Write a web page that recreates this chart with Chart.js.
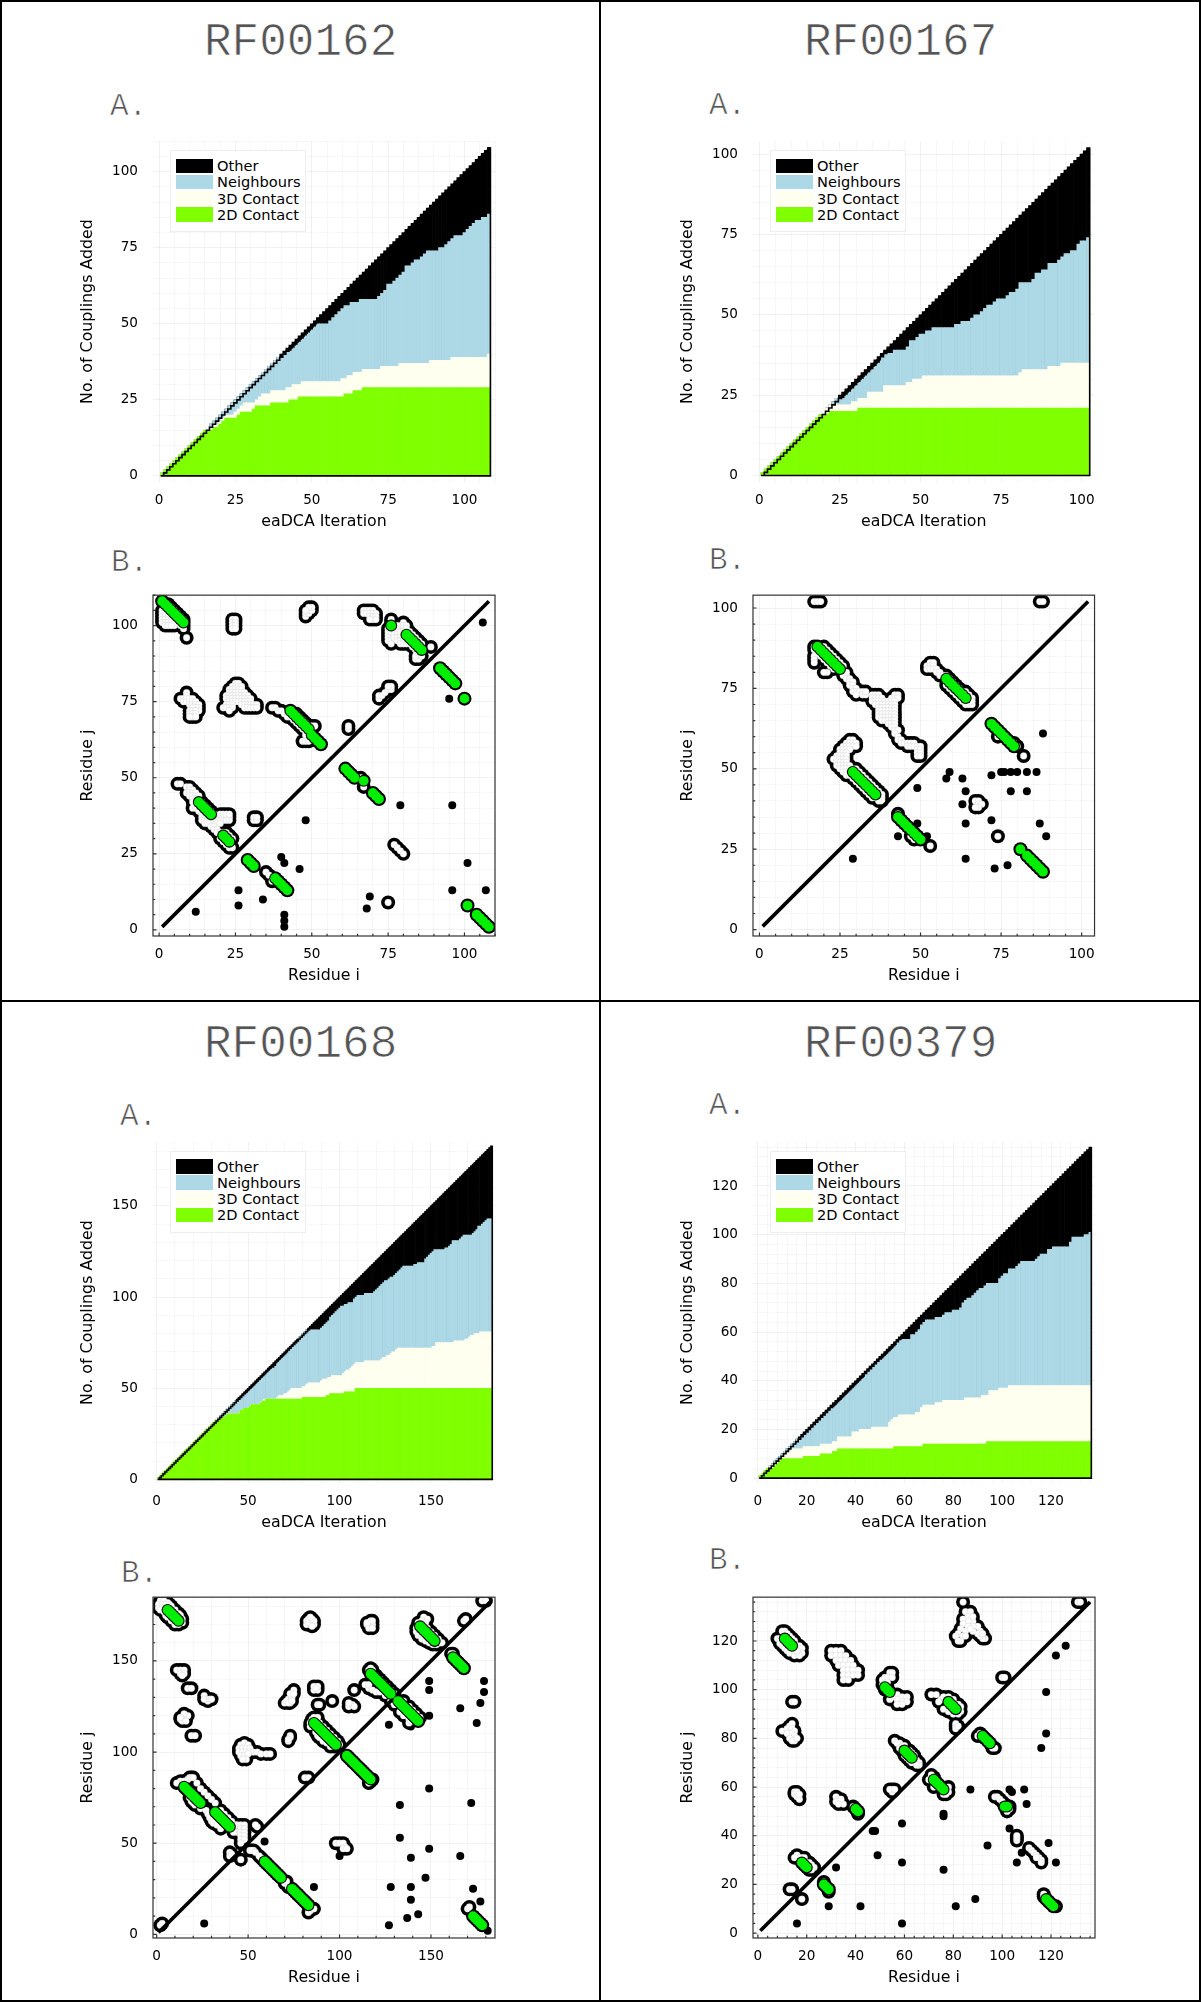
<!DOCTYPE html>
<html>
<head>
<meta charset="utf-8">
<title>eaDCA couplings</title>
<script src="https://cdn.jsdelivr.net/npm/chart.js@4"></script>
<style>
  html, body { margin: 0; padding: 0; background: #fff; }
  #page { position: relative; width: 1201px; height: 2002px; overflow: hidden; background: #fff; }
  #page canvas { position: absolute; }
  .rule { position: absolute; background: #000; }
  .head { position: absolute; font-family: "Liberation Mono", monospace; color: #555; white-space: pre; line-height: 1; -webkit-text-stroke: 0.7px #fff; }
  .legend { position: absolute; box-sizing: border-box; width: 136px; height: 82px; background: #fff; border: 1px solid #eee;
            font: 14.6px "DejaVu Sans", sans-serif; color: #000; padding: 7px 0 0 5px; }
  .legend div { height: 16.3px; line-height: 16.3px; white-space: nowrap; }
  .legend span { display: inline-block; width: 37px; height: 14.5px; margin-right: 4px; vertical-align: -2px; }
</style>
</head>
<body>
<div id="page"></div>
<script>
// Panel A: iterations and the running top of each layer

var iter162 = [1,2,3,4,5,6,7,8,9,10,11,12,13,14,15,16,17,18,19,20,21,22,23,24,25,26,27,28,29,30,31,32,33,34,35,36,37,38,39,40,41,42,43,44,45,46,47,48,49,50,51,52,53,54,55,56,57,58,59,60,61,62,63,64,65,66,67,68,69,70,71,72,73,74,75,76,77,78,79,80,81,82,83,84,85,86,87,88,89,90,91,92,93,94,95,96,97,98,99,100,101,102,103,104,105,106,107,108];
var d2Top162 = [1,2,3,4,5,6,7,8,9,10,11,12,13,14,15,
  15,15,16,16,17,18,19,19,19,19,20,21,21,21,21,22,23,23,23,23,23,
  24,24,24,24,24,24,25,25,25,26,26,26,26,26,26,26,26,26,26,26,26,26,26,26,
  27,27,27,28,28,28,
  29,29,29,29,29,29,29,29,29,29,29,29,29,29,29,29,29,29,29,29,29,29,29,29,29,29,29,29,29,29,29,29,29,29,29,29,29,29,29,29,29,29];
var d3Top162 = [1,2,3,4,5,6,7,8,9,10,11,12,13,14,15,
  16,16,17,17,18,19,20,20,20,21,22,23,24,24,24,24,25,26,27,27,27,
  28,28,28,28,28,29,29,30,30,30,31,31,31,31,31,31,31,31,31,31,31,31,31,32,32,33,33,34,34,34,
  35,35,35,35,35,35,36,36,36,36,36,36,37,37,37,37,37,37,37,37,37,37,38,38,38,38,38,38,38,
  39,39,39,39,39,39,39,39,39,39,39,39,40];
var nbTop162 = [1,2,3,4,5,6,7,8,9,10,11,12,13,14,15,16,17,18,19,20,21,22,23,24,25,26,27,28,29,30,31,32,33,34,35,36,37,38,
  39,39,40,41,41,42,43,44,45,46,47,48,49,50,50,50,50,51,52,53,54,55,56,56,57,57,57,58,58,58,58,58,58,
  59,60,61,63,63,64,65,66,67,69,69,70,71,71,72,73,74,74,74,74,75,75,76,77,78,79,79,79,80,81,82,83,84,84,85,85,86];

var iter167 = [1,2,3,4,5,6,7,8,9,10,11,12,13,14,15,16,17,18,19,20,21,22,23,24,25,26,27,28,29,30,31,32,33,34,35,36,37,38,39,40,41,42,43,44,45,46,47,48,49,50,51,52,53,54,55,56,57,58,59,60,61,62,63,64,65,66,67,68,69,70,71,72,73,74,75,76,77,78,79,80,81,82,83,84,85,86,87,88,89,90,91,92,93,94,95,96,97,98,99,100,101,102];
var d2Top167 = [1,2,3,4,5,6,7,8,9,10,11,12,13,14,15,16,17,18,19,19,19,
  20,20,20,20,20,20,20,20,20,
  21,21,21,21,21,21,21,21,21,21,21,21,21,21,21,21,21,21,21,21,21,21,21,21,21,21,21,21,21,21,21,21,21,21,21,21,21,21,21,21,21,21,21,21,21,21,21,21,21,21,21,21,21,21,21,21,21,21,21,21,21,21,21,21,21,21,21,21,21,21,21,21];
var d3Top167 = [1,2,3,4,5,6,7,8,9,10,11,12,13,14,15,16,17,18,19,20,21,22,22,22,22,22,22,22,23,23,24,24,24,
  26,26,26,26,26,28,28,28,28,28,28,28,29,29,30,30,30,
  31,31,31,31,31,31,31,31,31,31,31,31,31,31,31,31,31,31,31,31,31,31,31,31,31,31,31,31,31,31,
  32,33,33,33,33,33,33,33,33,34,34,34,34,35,35,35,35,35,35,35,35,35];
var nbTop167 = [1,2,3,4,5,6,7,8,9,10,11,12,13,14,15,16,17,18,19,20,21,22,23,24,
  24,24,25,26,27,28,29,30,31,32,33,34,35,37,38,38,38,39,39,39,39,40,42,42,43,44,44,45,45,
  46,46,46,46,46,46,46,47,47,48,48,48,49,50,50,51,52,53,53,54,55,55,55,56,57,57,58,60,60,60,60,61,63,63,64,64,66,66,66,67,68,69,69,70,70,72,73,73,74];

var iter168 = [1,2,3,4,5,6,7,8,9,10,11,12,13,14,15,16,17,18,19,20,21,22,23,24,25,26,27,28,29,30,31,32,33,34,35,36,37,38,39,40,41,42,43,44,45,46,47,48,49,50,51,52,53,54,55,56,57,58,59,60,61,62,63,64,65,66,67,68,69,70,71,72,73,74,75,76,77,78,79,80,81,82,83,84,85,86,87,88,89,90,91,92,93,94,95,96,97,98,99,100,101,102,103,104,105,106,107,108,109,110,111,112,113,114,115,116,117,118,119,120,121,122,123,124,125,126,127,128,129,130,131,132,133,134,135,136,137,138,139,140,141,142,143,144,145,146,147,148,149,150,151,152,153,154,155,156,157,158,159,160,161,162,163,164,165,166,167,168,169,170,171,172,173,174,175,176,177,178,179,180,181,182,183];
var d2Top168 = [1,2,3,4,5,6,7,8,9,10,11,12,13,14,15,16,17,18,19,20,21,22,23,24,25,26,27,28,29,30,31,
  32,32,33,33,34,34,35,36,36,36,36,36,36,36,38,38,39,39,39,40,41,41,41,41,41,42,43,43,
  44,44,44,44,44,44,44,44,44,44,44,44,44,44,44,44,44,44,44,44,
  45,45,45,45,45,45,45,45,45,45,45,45,45,46,46,47,47,47,47,47,47,47,47,48,48,48,48,48,48,
  50,50,50,50,50,50,50,50,50,50,50,50,50,50,50,50,50,50,50,50,50,50,50,50,50,50,50,50,50,50,50,50,50,50,50,50,50,50,50,50,50,50,50,50,50,50,50,50,50,50,50,50,50,50,50,50,50,50,50,50,50,50,50,50,50,50,50,50,50,50,50,50,50,50,50];
var d3Top168 = [1,2,3,4,5,6,7,8,9,10,11,12,13,14,15,16,17,18,19,20,21,22,23,24,25,26,27,28,29,30,31,
  32,32,33,33,34,34,35,36,36,36,36,36,36,36,38,38,39,39,39,40,41,41,41,41,41,42,43,
  44,44,44,44,44,44,44,45,46,46,46,47,47,48,49,50,50,50,50,50,50,51,51,52,53,53,53,53,53,53,53,54,55,55,55,56,56,
  57,57,57,57,57,57,58,59,60,60,61,62,63,64,64,64,64,64,65,65,65,65,65,65,65,65,65,66,67,67,68,68,69,70,70,71,
  72,72,72,72,72,72,72,72,72,72,72,72,72,72,72,72,72,72,72,73,73,75,75,75,75,75,75,75,75,75,75,76,76,76,76,76,76,77,77,78,79,79,80,80,80,81,81,81,81,81,81,81];
var nbTop168 = [1,2,3,4,5,6,7,8,9,10,11,12,13,14,15,16,17,18,19,20,21,22,23,24,25,26,27,28,29,30,31,32,33,34,35,36,37,38,39,40,
  41,42,43,43,44,45,46,47,47,48,49,50,51,52,53,54,55,56,57,58,59,60,61,61,62,64,65,66,67,68,69,71,72,73,74,75,76,78,79,80,81,
  82,82,82,82,82,82,82,82,83,84,85,86,87,89,90,91,92,93,94,95,95,96,96,97,97,97,99,100,101,101,101,101,102,102,102,102,102,103,
  104,105,106,107,108,109,109,110,111,111,112,113,114,115,116,117,117,117,117,117,117,118,118,119,119,119,119,121,122,123,124,125,
  126,126,126,126,126,126,127,127,128,129,131,131,131,131,132,133,134,134,134,134,134,135,136,137,139,139,140,141,142,143,143,143];

var iter379 = [1,2,3,4,5,6,7,8,9,10,11,12,13,14,15,16,17,18,19,20,21,22,23,24,25,26,27,28,29,30,31,32,33,34,35,36,37,38,39,40,41,42,43,44,45,46,47,48,49,50,51,52,53,54,55,56,57,58,59,60,61,62,63,64,65,66,67,68,69,70,71,72,73,74,75,76,77,78,79,80,81,82,83,84,85,86,87,88,89,90,91,92,93,94,95,96,97,98,99,100,101,102,103,104,105,106,107,108,109,110,111,112,113,114,115,116,117,118,119,120,121,122,123,124,125,126,127,128,129,130,131,132,133,134,135,136];
var d2Top379 = [1,2,3,4,4,4,5,6,7,8,8,8,8,8,8,8,8,8,9,9,9,9,9,9,9,10,10,10,10,10,11,11,
  12,12,12,12,12,12,12,12,12,12,12,12,12,12,12,12,12,12,12,12,12,12,12,
  13,13,13,13,13,13,13,13,13,13,13,13,
  14,14,14,14,14,14,14,14,14,14,14,14,14,14,14,14,14,14,14,14,14,14,14,14,14,14,
  15,15,15,15,15,15,15,15,15,15,15,15,15,15,15,15,15,15,15,15,15,15,15,15,15,15,15,15,15,15,15,15,15,15,15,15,15,15,15,15,15,15,15];
var d3Top379 = [1,2,3,4,5,5,6,7,8,9,10,11,11,12,12,12,12,12,13,13,13,13,13,13,13,14,14,14,14,14,15,15,
  17,17,17,17,17,17,19,19,19,20,20,20,20,20,21,21,21,21,21,21,21,23,24,25,25,26,26,26,26,26,26,26,27,27,29,
  30,30,30,30,30,31,31,31,32,32,32,32,32,32,32,32,32,33,33,33,33,33,33,33,34,34,34,36,36,36,36,37,37,37,37,
  38,38,38,38,38,38,38,38,38,38,38,38,38,38,38,38,38,38,38,38,38,38,38,38,38,38,38,38,38,38,38,38,38,38];
var nbTop379 = [1,2,3,4,5,6,7,8,9,10,11,12,13,14,15,16,16,17,18,19,20,21,22,23,24,25,26,27,28,29,29,30,31,32,33,34,35,36,37,38,39,40,41,43,44,45,46,47,48,49,49,50,51,52,53,54,56,57,
  57,57,57,57,59,59,60,61,63,64,65,65,65,65,66,66,66,67,68,68,68,69,69,69,70,72,73,74,74,75,76,77,78,78,79,80,80,80,80,80,82,83,84,84,86,86,86,87,88,
  89,89,89,89,89,89,90,91,92,92,92,94,94,95,95,95,95,95,95,95,97,99,99,99,99,99,100,100,101];

// Axis ticks: every entry gets a grid line, the label lists get text

var ticks162 = [0,5,10,15,20,25,30,35,40,45,50,55,60,65,70,75,80,85,90,95,100,105,110];
var labels162 = [0,25,50,75,100];
var ticks167 = [0,5,10,15,20,25,30,35,40,45,50,55,60,65,70,75,80,85,90,95,100];
var labels167 = [0,25,50,75,100];
var ticks168 = [0,10,20,30,40,50,60,70,80,90,100,110,120,130,140,150,160,170,180];
var labels168 = [0,50,100,150];
var ticks379 = [0,4,8,12,16,20,24,28,32,36,40,44,48,52,56,60,64,68,72,76,80,84,88,92,96,100,104,108,112,116,120,124,128,132,136];
var labels379 = [0,20,40,60,80,100,120];

// Panel B: residue pairs [i, j]

var green162 = [[1,108],[2,107],[3,106],[4,105],[5,104],[6,103],[7,102],[8,101],[76,100],[81,97],[82,96],[83,95],[84,94],[85,93],[86,92],
  [92,86],[93,85],[94,84],[95,83],[96,82],[97,81],[100,76],[43,72],[44,71],[45,70],[46,69],[47,68],[48,67],[49,66],[50,64],[51,63],[52,62],[53,61],
  [61,53],[62,52],[63,51],[64,50],[67,49],[70,45],[71,44],[72,43],[13,42],[14,41],[15,40],[16,39],[17,38],[21,31],[22,30],[23,29],
  [29,23],[30,22],[31,21],[38,17],[39,16],[40,15],[41,14],[42,13],[101,8],[104,5],[105,4],[106,3],[107,2],[108,1]];
var white162 = [[3,107],[4,106],[5,105],[6,104],[7,103],[8,102],[8,100],[8,99],[7,100],[6,101],[5,100],
  [1,105],[1,104],[2,104],[1,103],[2,103],[3,103],[1,102],[2,102],[3,102],[4,102],[1,101],[2,101],[3,101],[4,101],[5,101],[2,100],[3,100],[4,100],[9,96],
  [24,102],[25,102],[24,101],[25,101],[24,100],[25,100],[24,99],[25,99],
  [48,103],[48,104],[49,104],[49,105],[50,105],[50,106],[49,106],[48,105],
  [67,105],[68,105],[69,105],[70,105],[67,104],[68,104],[69,104],[70,104],[71,104],[69,103],[70,103],[71,103],[70,102],[71,102],[69,102],
  [76,102],[76,101],[80,101],[79,100],[80,100],[81,100],[81,99],[82,98],[83,97],[84,96],[85,95],[86,94],[89,93],[84,89],[85,89],[84,90],[85,91],[86,90],
  [75,99],[75,98],[75,97],[75,96],[75,95],[76,95],[76,94],[76,98],[76,99],[77,97],[77,96],[78,96],[78,95],[79,95],[79,94],[80,94],[81,94],[80,96],[79,97],[78,98],[77,99],[78,99],[79,98],[80,98],[81,95],[82,94],[83,93],[84,92],[77,100],[78,100],
  [72,76],[72,77],[73,77],[74,78],[75,79],[76,79],[76,80],[75,80],[62,66],[62,67],
  [7,76],[8,76],[8,75],[9,78],[9,77],[9,76],[9,75],[10,74],[10,75],[10,76],[11,76],[11,75],[11,74],[12,75],[12,74],[13,74],[13,73],[13,72],[12,73],[11,73],[10,72],[11,72],[12,72],[10,71],[11,71],[12,71],[11,70],[12,70],[10,70],
  [25,81],[26,81],[24,80],[25,80],[26,80],[27,80],[23,79],[24,79],[25,79],[26,79],[27,79],[23,78],[24,78],[25,78],[26,78],[27,78],[28,78],
  [22,77],[23,77],[24,77],[25,77],[26,77],[27,77],[28,77],[29,77],[22,76],[23,76],[24,76],[25,76],[26,76],[27,76],[28,76],[29,76],[30,76],
  [23,75],[24,75],[25,75],[26,75],[27,75],[28,75],[29,75],[30,75],[22,74],[23,74],[24,74],[27,74],[28,74],[29,74],[30,74],[31,74],[32,74],
  [21,73],[22,73],[23,73],[24,73],[28,73],[29,73],[30,73],[31,73],[32,73],[23,72],
  [37,73],[38,73],[39,72],[40,72],[41,71],[42,71],[42,70],[43,70],[45,71],[46,70],[47,69],[48,68],[49,67],[50,67],[50,66],[51,67],
  [44,69],[45,68],[46,67],[47,66],[48,65],[48,64],[47,62],[48,62],[49,62],[50,63],
  [6,48],[7,48],[9,47],[10,47],[10,46],[11,46],[9,45],[10,45],[11,45],[12,45],[10,44],[11,44],[12,44],[13,44],[11,43],[12,43],[13,43],[11,42],[12,41],[11,40],[12,40],[13,39],[14,38],[14,37],[15,37],[14,36],[15,36],[16,37],[15,35],
  [14,42],[15,41],[16,40],[17,39],[18,38],[18,37],[19,37],[20,37],[21,37],[22,37],[23,37],[23,36],[22,36],[21,36],[20,36],[19,36],[18,36],[17,36],[16,36],[18,35],[17,35],[19,35],[20,35],[16,35],[17,34],[18,34],[18,33],[19,33],[19,32],[20,32],[21,32],[20,38],[21,38],[22,38],[23,38],
  [22,32],[23,31],[24,30],[20,30],[21,29],[22,28],[23,27],[24,27],[31,36],[31,37],[32,36],[32,37],
  [35,19],[36,18],[37,16],[67,47],[66,50],[75,9],[77,28],[78,27],[79,26],[80,25]];
var dots162 = [[12,6],[26,13],[26,8],[34,10],[40,24],[41,22],[46,20],[48,36],[41,5],[41,3],[41,1],[79,41],[96,41],[95,76],[106,101],[101,22],[96,13],[107,13],[69,11],[68,7]];

var green167 = [[18,88],[19,87],[20,86],[21,85],[22,84],[23,83],[24,82],[25,81],[58,78],[59,77],[60,76],[61,75],[62,74],[63,73],[64,72],
  [72,64],[73,63],[74,62],[75,61],[76,60],[77,59],[78,58],[79,57],[29,49],[30,48],[31,47],[32,46],[33,45],[34,44],[35,43],[36,42],
  [43,35],[44,34],[45,33],[46,32],[47,31],[48,30],[49,29],[50,28],[81,25],[83,23],[84,22],[85,21],[86,20],[87,19],[88,18]];
var white167 = [[17,102],[18,102],[19,102],[87,102],[88,102],
  [20,88],[21,87],[22,86],[23,85],[24,84],[25,83],[26,82],[17,88],[17,87],[18,86],[17,85],[17,84],[17,83],[21,80],[20,80],[19,85],[20,84],[21,83],[22,82],[23,81],
  [26,80],[27,79],[27,80],[26,79],[27,78],[28,78],[28,77],[29,77],[28,76],[29,76],[29,75],[30,75],[29,74],[30,74],[31,74],[32,74],[30,73],[32,73],[33,73],[33,74],
  [35,73],[36,73],[37,73],[42,73],[43,73],[35,72],[36,72],[37,72],[38,72],[41,72],[42,72],[43,72],
  [35,71],[36,71],[37,71],[38,71],[39,71],[40,71],[41,71],[42,71],[36,70],[37,70],[38,70],[39,70],[40,70],[41,70],[42,70],
  [37,69],[38,69],[39,69],[40,69],[41,69],[42,69],[37,68],[38,68],[39,68],[40,68],[41,68],[42,68],[37,67],[38,67],[39,67],[40,67],[41,67],[42,67],
  [37,66],[38,66],[39,66],[40,66],[41,66],[42,66],[38,65],[39,65],[40,65],[41,65],[42,65],[40,64],[41,64],[42,64],[41,63],[42,63],[42,62],[43,62],[42,61],[43,60],
  [43,59],[44,59],[44,58],[45,58],[46,58],[47,58],[48,58],[46,57],[47,57],[48,57],[49,57],[50,57],[49,56],[50,56],[49,55],[50,55],[49,54],[50,54],
  [28,59],[29,59],[27,58],[28,58],[29,58],[30,58],[26,57],[27,57],[28,57],[29,57],[30,57],[25,56],[26,56],[27,56],[28,56],[25,55],[26,55],[27,55],
  [24,54],[25,54],[26,54],[27,54],[23,53],[24,53],[25,53],[26,53],[27,53],[24,52],[25,52],[26,52],[27,52],[24,51],[25,51],[26,51],[27,51],[28,51],
  [25,50],[26,50],[27,50],[28,50],[29,50],[26,49],[27,49],[28,49],[27,48],[28,48],
  [30,50],[31,49],[32,48],[33,47],[34,46],[35,45],[36,44],[37,43],[38,42],[38,41],[37,41],[38,40],[29,47],[30,46],[31,45],[32,44],[33,43],[34,42],[35,41],[36,41],[37,40],
  [52,82],[53,83],[54,83],[53,82],[54,82],[52,81],[53,81],[54,81],[55,81],[55,80],[56,80],[56,79],[57,79],[58,79],[59,78],[60,77],[61,76],[62,75],[63,74],[64,74],[65,73],[66,72],
  [58,76],[59,75],[60,74],[61,73],[62,72],[63,71],[64,70],[65,70],[66,70],[66,71],
  [74,60],[80,57],[79,58],[82,54],[67,40],[68,40],[68,39],[69,39],[68,38],[67,38],[74,29],[53,26],[47,29],[48,28],[43,36]];
var dots167 = [[29,22],[43,29],[49,44],[49,33],[52,29],[58,47],[59,49],[63,47],[64,43],[63,39],[64,33],[64,22],[72,48],[75,49],[76,49],[78,49],[80,49],[83,49],[86,49],[78,43],[83,43],[72,34],[87,33],[89,29],[73,19],[77,20],[88,61]];

var green168 = [[6,178],[7,177],[8,176],[9,175],[10,174],[11,173],[12,172],
  [15,81],[16,80],[17,79],[18,78],[19,77],[20,76],[21,75],[22,74],[23,73],[24,72],
  [32,67],[33,66],[34,65],[35,64],[36,63],[37,62],[38,61],[39,60],[40,59],
  [59,40],[60,39],[61,38],[62,37],[63,36],[64,35],[65,34],[66,33],[67,32],[68,31],
  [74,25],[75,24],[76,23],[77,22],[78,21],[79,20],[80,19],[81,18],[82,17],[83,16],
  [86,116],[87,115],[88,114],[89,113],[90,112],[91,111],[92,110],[93,109],[94,108],[95,107],[96,106],[97,105],[98,104],
  [104,98],[105,97],[106,96],[107,95],[108,94],[109,93],[110,92],[111,91],[112,90],[113,89],[114,88],[115,87],[116,86],[117,85],
  [117,143],[118,142],[119,141],[120,140],[121,139],[122,138],[123,137],[124,136],[125,135],[126,134],[127,133],[128,132],
  [132,128],[133,127],[134,126],[135,125],[136,124],[137,123],[138,122],[139,121],[140,120],[141,119],[142,118],[143,117],
  [144,169],[145,168],[146,167],[147,166],[148,165],[149,164],[150,163],[151,162],[152,161],
  [162,152],[163,151],[164,150],[165,149],[166,148],[167,147],[168,146],[173,10],[174,9],[175,8],[176,7],[177,6],[178,5]];
var white168 = [[2,183],[4,183],[6,182],[1,181],[3,181],[5,181],[7,181],[1,179],[3,179],[2,178],[5,179],[4,177],[5,175],[6,174],[8,172],[10,170],[12,170],[14,171],[14,173],[13,175],[12,176],[10,178],[8,180],[9,176],
  [82,170],[84,170],[86,170],[82,172],[84,172],[86,172],[83,171],[83,173],[85,173],[85,169],[84,174],
  [115,170],[117,170],[116,171],[118,170],[116,168],[118,168],[117,172],[118,172],[115,171],
  [146,174],[148,173],[145,172],[147,171],[143,171],[144,170],[142,168],[142,166],[143,164],[145,162],[147,161],[149,160],[151,159],[153,159],[155,160],[156,160],[154,162],[152,164],[150,166],[148,168],[146,170],[144,167],[144,165],[146,164],[148,163],[150,162],
  [168,172],[169,173],[178,183],[180,183],[161,154],[162,154],[170,14],[171,15],
  [11,145],[13,145],[15,145],[13,143],[15,143],[14,142],[17,135],[19,135],[26,131],[27,129],[28,128],[26,129],[29,129],[30,129],
  [13,118],[15,119],[17,120],[14,117],[16,117],[15,121],[13,119],[19,109],[21,109],
  [46,104],[48,105],[50,104],[45,102],[47,102],[49,102],[51,102],[45,100],[47,100],[49,100],[51,100],[53,100],[46,98],[48,98],[50,99],[55,100],[57,99],[60,99],[62,99],[49,96],[47,96],
  [72,106],[73,109],[73,108],[72,107],[70,127],[72,129],[74,130],[75,134],[73,132],[75,132],[73,127],[71,128],[72,127],[74,128],
  [86,134],[88,134],[86,136],[88,136],[87,135],[88,126],[89,126],[96,128],[108,134],[105,125],[107,126],[108,125],[105,127],
  [116,145],[118,145],[117,146],[114,137],[116,135],[116,137],[118,134],[120,133],[122,133],[125,131],[120,142],[122,140],[124,138],[126,136],[128,134],[130,132],
  [135,128],[138,125],[140,123],[142,121],[144,119],[128,128],[130,126],[133,122],[135,120],[138,118],[138,116],[139,117],
  [85,118],[84,116],[86,119],[88,119],[84,114],[87,111],[88,109],[89,108],[91,106],[93,105],[95,103],[97,103],[89,116],[91,114],[93,112],[95,110],[97,108],[99,106],[100,104],
  [81,86],[83,86],[118,85],[116,83],[117,84],
  [13,84],[15,84],[17,85],[18,86],[19,86],[20,86],[22,83],[24,80],[26,78],[28,76],[30,74],[32,72],[11,83],[18,75],[20,72],[19,73],[21,71],[24,69],
  [27,68],[28,66],[29,64],[30,62],[31,61],[33,60],[35,58],[35,68],[37,66],[39,64],[41,62],[43,60],
  [42,58],[44,60],[46,60],[48,60],[46,58],[48,58],[44,56],[46,56],[48,56],[42,56],[46,54],[48,54],[46,52],[48,52],[46,50],[55,59],[54,60],
  [40,45],[40,43],[41,44],[46,41],[51,46],[53,46],[52,46],[54,45],[98,50],[100,50],[102,50],[103,48],[102,47],[104,47],
  [84,13],[86,14],[83,12],[70,28],[72,26],[71,29],[2,5],[3,6],[57,42],[58,41],[56,43]];
var dots168 = [[26,6],[59,51],[86,26],[100,43],[127,115],[127,5],[128,26],[133,71],[133,53],[137,9],[139,114],[139,42],[139,26],[139,19],[143,11],[147,31],[149,139],[149,134],[149,120],[149,80],[149,47],[166,124],[166,43],[172,72],[173,25],[175,116],[177,127],[177,18],[179,139],[179,133],[181,2]];

var green379 = [[11,121],[12,120],[13,119],[14,118],[52,101],[53,100],[54,99],[78,95],[79,94],[80,93],[81,92],[92,81],[93,80],[94,79],[95,78],[60,75],[61,74],[62,73],[63,72],
  [72,63],[73,62],[74,61],[75,60],[76,59],[40,51],[41,50],[18,29],[19,28],[20,27],[27,20],[28,19],[29,18],[101,52],[102,52],[118,14],[119,13],[120,12],[121,11]];
var white379 = [[10,124],[11,124],[12,123],[13,122],[14,121],[15,120],[8,121],[9,121],[9,119],[10,118],[11,117],[12,116],[13,115],[15,119],[16,118],[17,118],[18,117],[18,115],[16,115],[15,114],[17,114],[15,116],[16,116],
  [14,95],[15,95],[10,83],[12,84],[13,85],[14,86],[12,82],[14,84],[15,83],[14,82],[15,81],[13,80],[15,79],[14,79],[16,80],
  [15,58],[15,57],[16,56],[17,55],[16,58],[17,57],[13,18],[14,18],[18,14],[16,32],[17,31],[15,31],[18,31],[19,31],[21,29],[22,28],[23,27],[22,26],[21,26],
  [32,56],[33,55],[34,54],[35,53],[32,54],[34,55],[33,53],
  [30,116],[32,116],[34,116],[30,114],[32,114],[34,114],[36,114],[32,112],[34,112],[36,112],[38,112],[33,110],[35,110],[37,110],[39,110],[35,108],[37,108],[39,108],[41,108],[35,106],[37,106],[39,106],[41,106],[35,104],[37,104],
  [51,104],[52,105],[54,107],[55,107],[53,105],[55,105],[51,102],[53,103],[57,98],[59,97],[61,97],[57,96],[59,95],[57,94],[61,95],[55,97],[54,96],[59,94],
  [58,78],[59,77],[60,77],[62,75],[63,74],[64,73],[65,71],[66,70],[64,70],[63,70],[66,69],[65,69],[56,79],[57,78],[58,76],[59,75],[60,73],[61,72],[62,71],
  [55,59],[55,58],[54,59],[56,59],[71,65],[72,64],[78,60],[78,58],[76,57],[77,57],[70,63],[72,60],
  [71,98],[73,98],[75,96],[76,97],[78,97],[80,96],[82,94],[83,93],[83,91],[82,90],[80,90],[78,91],[76,92],[74,95],[81,85],[81,86],[81,84],[82,85],[100,105],[101,105],[96,76],[97,76],[91,82],[90,81],
  [84,136],[85,132],[87,132],[93,121],[92,121],[91,122],[91,124],[89,126],[90,123],[88,128],[86,130],[88,130],[90,126],[92,123],[84,129],[86,128],[88,126],[84,127],[86,126],[88,124],[83,125],[85,124],[87,125],[82,123],[84,122],[81,122],[83,120],[82,120],[85,122],
  [131,136],[132,136],[97,56],[98,56],[99,55],[100,54],[101,53],[103,51],[102,50],[103,52],[106,38],[106,39],[106,40],[111,35],[112,34],[113,33],[114,32],[115,31],[116,30],[116,29],[114,31],
  [117,15],[117,16],[122,11],[27,21],[29,17],[39,52],[41,49],[52,100],[53,101]];
var dots379 = [[16,4],[29,11],[42,11],[32,27],[59,4],[59,29],[49,32],[47,42],[48,42],[59,45],[76,49],[76,48],[76,26],[81,11],[89,14],[94,36],[87,59],[103,59],[104,58],[109,59],[110,53],[103,43],[108,33],[106,29],[119,37],[122,29],[116,76],[118,82],[118,99],[122,114],[126,118]];

// Legend order, top to bottom
var legendNames = ["Other", "Neighbours", "3D Contact", "2D Contact"];
var legendColors = ["#000000", "#ADD8E6", "#FFFFF0", "#7FFF00"];

var page = document.getElementById("page");
var gutterLeft = 80, gutterBottom = 55, padTop = 22, padRight = 10, frameSize = 342;

/**
 * Adds an absolutely placed div to the page
 */
function addDiv(className, left, top, width, height, text) {
    let div = document.createElement("div");
    div.className = className;
    div.style.left = left + "px";
    div.style.top = top + "px";
    if (width) div.style.width = width + "px";
    if (height) div.style.height = height + "px";
    if (text) div.textContent = text;
    page.appendChild(div);
    return div;
}

function addHead(text, left, top, size) {
    let div = addDiv("head", left, top, 0, 0, text);
    div.style.fontSize = size + "px";
}

/**
 * Canvas whose plot area lands on the given frame corner
 */
function addCanvas(frameLeft, frameTop) {
    let canvas = document.createElement("canvas");
    canvas.width = gutterLeft + frameSize + padRight;
    canvas.height = padTop + frameSize + gutterBottom;
    canvas.style.left = (frameLeft - gutterLeft) + "px";
    canvas.style.top = (frameTop - padTop) + "px";
    page.appendChild(canvas);
    return canvas;
}

function toPoints(pairs) {
    return pairs.map(p => ({x: p[0], y: p[1]}));
}

function barPoints(iter, values) {
    return iter.map((v, n) => ({x: v, y: values[n]}));
}

/**
 * Shared x and y scale options, with minor grid lines at every tick
 */
function axisOptions(maxValue, ticks, labels, title) {
    return {
        type: "linear",
        offset: false,
        min: -2,
        max: maxValue + 2,
        afterBuildTicks: scale => { scale.ticks = ticks.map(v => ({value: v})); },
        border: {display: false},
        grid: {
            offset: false,
            drawTicks: false,
            color: ctx => labels.includes(ctx.tick.value) ? "rgba(0,0,0,0.055)" : "rgba(0,0,0,0.03)"
        },
        ticks: {
            autoSkip: false,
            maxRotation: 0,
            padding: 10,
            color: "#000",
            font: {family: "DejaVu Sans", size: 13.6},
            callback: value => labels.includes(value) ? String(value) : ""
        },
        title: {
            display: true,
            text: title,
            color: "#000",
            font: {family: "DejaVu Sans", size: 15.8},
            padding: {top: 5.4, bottom: 5.4}
        }
    };
}

function baseOptions(maxValue, ticks, labels, xTitle, yTitle) {
    let x = axisOptions(maxValue, ticks, labels, xTitle);
    let y = axisOptions(maxValue, ticks, labels, yTitle);
    x.afterFit = scale => { scale.height = gutterBottom; };
    y.afterFit = scale => { scale.width = gutterLeft; };
    y.ticks.padding = 15;
    return {
        responsive: false,
        animation: false,
        devicePixelRatio: 1,
        layout: {autoPadding: false, padding: {top: padTop - 12, right: padRight}},
        plugins: {legend: {display: false}, tooltip: {enabled: false}},
        scales: {x: x, y: y}
    };
}

/**
 * Panel A, the growing layers as overlapped bars plus a black staircase outline
 */
function drawLayers(frameLeft, frameTop, iter, d2Top, d3Top, nbTop, ticks, labels) {
    let last = iter[iter.length - 1];
    let outline = [{x: 0.5, y: 0}].concat(iter.map(v => ({x: v + 0.5, y: v})));
    outline.push({x: last + 0.5, y: 0}, {x: 0.5, y: 0});
    let bar = {type: "bar", grouped: false, barPercentage: 1, categoryPercentage: 1, borderWidth: 0};

    new Chart(addCanvas(frameLeft, frameTop), {
        type: "bar",
        data: {
            datasets: [
                {type: "line", stepped: "before", data: outline, borderColor: "#000", borderWidth: 1.6, pointRadius: 0, fill: false},
                Object.assign({label: legendNames[3], data: barPoints(iter, d2Top), backgroundColor: legendColors[3]}, bar),
                Object.assign({label: legendNames[2], data: barPoints(iter, d3Top), backgroundColor: legendColors[2]}, bar),
                Object.assign({label: legendNames[1], data: barPoints(iter, nbTop), backgroundColor: legendColors[1]}, bar),
                Object.assign({label: legendNames[0], data: barPoints(iter, iter), backgroundColor: legendColors[0]}, bar)
            ]
        },
        options: baseOptions(last, ticks, labels, "eaDCA Iteration", "No. of Couplings Added")
    });

    let legend = addDiv("legend", frameLeft + 17, frameTop + 10);
    legendNames.forEach((name, n) => {
        let row = document.createElement("div");
        let swatch = document.createElement("span");
        swatch.style.background = legendColors[n];
        row.appendChild(swatch);
        row.appendChild(document.createTextNode(name));
        legend.appendChild(row);
    });
}

// frame box and inward tick marks of panel B
var frameTicks = {
    id: "frameTicks",
    afterDraw(chart) {
        let area = chart.chartArea, ctx = chart.ctx, majors = chart.options.majorTicks;
        ctx.save();
        ctx.strokeStyle = "#333";
        ctx.lineWidth = 1.2;
        ctx.strokeRect(area.left, area.top, area.right - area.left, area.bottom - area.top);
        ctx.beginPath();
        chart.scales.x.ticks.forEach(t => {
            let px = chart.scales.x.getPixelForValue(t.value);
            let size = majors.includes(t.value) ? 3.5 : 2.2;
            ctx.moveTo(px, area.bottom);
            ctx.lineTo(px, area.bottom - size);
        });
        chart.scales.y.ticks.forEach(t => {
            let py = chart.scales.y.getPixelForValue(t.value);
            let size = majors.includes(t.value) ? 3.5 : 2.2;
            ctx.moveTo(area.left, py);
            ctx.lineTo(area.left + size, py);
        });
        ctx.stroke();
        ctx.restore();
    }
};

/**
 * Panel B, contact map: black underlay, white 3D contacts, diagonal, green 2D contacts
 */
function drawContacts(frameLeft, frameTop, maxValue, green, white, dots, ticks, labels) {
    let options = baseOptions(maxValue, ticks, labels, "Residue i", "Residue j");
    options.majorTicks = labels;
    new Chart(addCanvas(frameLeft, frameTop), {
        type: "scatter",
        plugins: [frameTicks],
        data: {
            datasets: [
                {data: toPoints(green), pointRadius: 4.9, pointBackgroundColor: "#00EE00", pointBorderWidth: 0, clip: 0},
                {data: toPoints(green), pointRadius: 6, pointBackgroundColor: "#000", pointBorderWidth: 0, clip: 0},
                {data: [{x: 1, y: 1}, {x: maxValue, y: maxValue}], showLine: true, borderColor: "#000", borderWidth: 3.6, pointRadius: 0, clip: 0},
                {data: toPoints(white), pointRadius: 3.4, pointBackgroundColor: "#FFF", pointBorderColor: "rgba(170,170,170,0.5)", pointBorderWidth: 0.5, clip: 0},
                {data: toPoints(green.concat(white)), pointRadius: 7, pointBackgroundColor: "#000", pointBorderWidth: 0, clip: 0},
                {data: toPoints(dots), pointRadius: 4, pointBackgroundColor: "#000", pointBorderWidth: 0, clip: 0}
            ]
        },
        options: options
    });
}

// panel borders
addDiv("rule", 0, 0, 1201, 2);
addDiv("rule", 0, 2000, 1201, 2);
addDiv("rule", 0, 0, 2, 2002);
addDiv("rule", 1199, 0, 2, 2002);
addDiv("rule", 599, 0, 2, 2002);
addDiv("rule", 0, 1000, 1201, 2);

addHead("RF00162", 204, 20, 46);
addHead("RF00167", 804, 20, 46);
addHead("RF00168", 204, 1022, 46);
addHead("RF00379", 804, 1022, 46);

addHead("A.", 110, 91, 31);
addHead("B.", 111, 547, 31);
addHead("A.", 709, 90, 31);
addHead("B.", 709, 545, 31);
addHead("A.", 120, 1101, 31);
addHead("B.", 121, 1558, 31);
addHead("A.", 709, 1090, 31);
addHead("B.", 709, 1545, 31);

drawLayers(153, 140, iter162, d2Top162, d3Top162, nbTop162, ticks162, labels162);
drawContacts(153, 594, 108, green162, white162, dots162, ticks162, labels162);
drawLayers(753, 140, iter167, d2Top167, d3Top167, nbTop167, ticks167, labels167);
drawContacts(753, 594, 102, green167, white167, dots167, ticks167, labels167);
drawLayers(153, 1140.5, iter168, d2Top168, d3Top168, nbTop168, ticks168, labels168);
drawContacts(153, 1595.5, 183, green168, white168, dots168, ticks168, labels168);
drawLayers(753, 1140.5, iter379, d2Top379, d3Top379, nbTop379, ticks379, labels379);
drawContacts(753, 1595.5, 136, green379, white379, dots379, ticks379, labels379);
</script>
</body>
</html>
